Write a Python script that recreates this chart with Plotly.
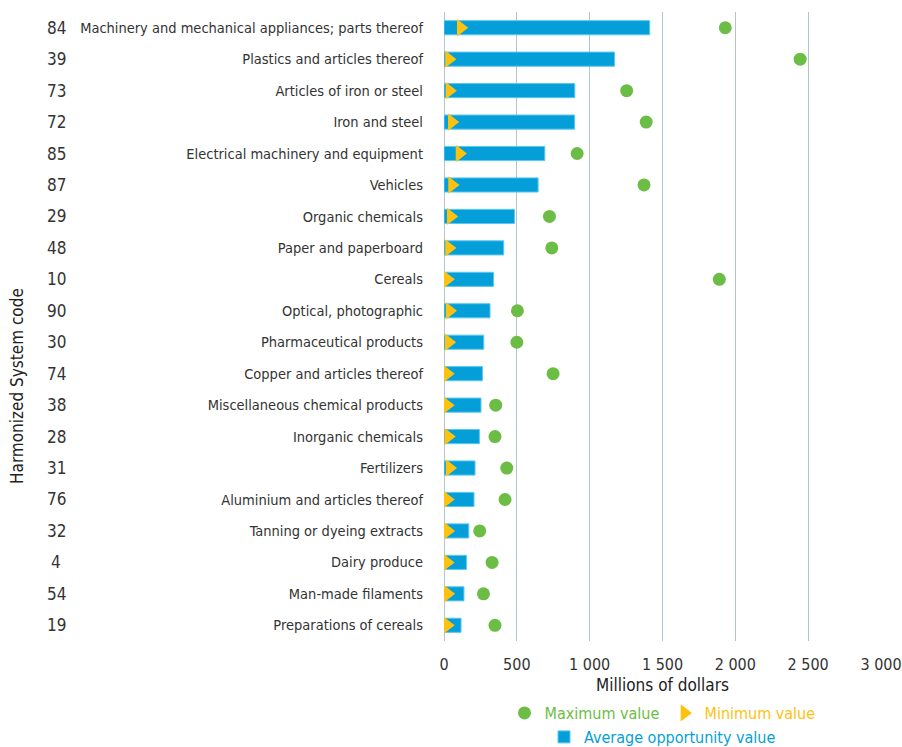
import plotly.graph_objects as go

codes = ["84", "39", "73", "72", "85", "87", "29", "48", "10", "90",
         "30", "74", "38", "28", "31", "76", "32", "4", "54", "19"]
names = ["Machinery and mechanical appliances; parts thereof",
         "Plastics and articles thereof", "Articles of iron or steel",
         "Iron and steel", "Electrical machinery and equipment", "Vehicles",
         "Organic chemicals", "Paper and paperboard", "Cereals",
         "Optical, photographic", "Pharmaceutical products",
         "Copper and articles thereof", "Miscellaneous chemical products",
         "Inorganic chemicals", "Fertilizers", "Aluminium and articles thereof",
         "Tanning or dyeing extracts", "Dairy produce", "Man-made filaments",
         "Preparations of cereals"]
average_value = [1412, 1171, 898, 897, 692, 646, 484, 410, 340, 316,
                 273, 264, 254, 243, 213, 206, 170, 154, 137, 117]
maximum_value = [1931, 2445, 1254, 1388, 914, 1373, 724, 740, 1890, 504,
                 500, 749, 355, 350, 431, 419, 245, 330, 271, 350]
minimum_value = [115, 34, 37, 53, 106, 55, 46, 34, 23, 38,
                 32, 22, 22, 29, 38, 22, 25, 22, 25, 22]
x_ticks = [0, 500, 1000, 1500, 2000, 2500, 3000]
x_tick_labels = ["0", "500", "1 000", "1 500", "2 000", "2 500", "3 000"]

FONT = "Liberation Sans Narrow, DejaVu Sans Condensed, Roboto, sans-serif"
BLUE = "#049fd9"
GREEN = "#6cbd45"
YELLOW = "#fcc20f"

W, H = 902, 747
ML, MR, MT, MB = 444, 21, 12, 106
PW = W - ML - MR
PH = H - MT - MB

fig = go.Figure()
fig.add_trace(go.Bar(
    y=names, x=average_value, orientation="h", width=0.45,
    marker=dict(color=BLUE, line=dict(color="#5cc8f0", width=1)),
    name=f"<span style='color:{BLUE}'>Average opportunity value</span>",
    legend="legend2", showlegend=True,
))
fig.add_trace(go.Scatter(
    y=names, x=maximum_value, mode="markers",
    marker=dict(symbol="circle", size=13, color=GREEN),
    name=f"<span style='color:{GREEN}'>Maximum value</span>",
    legend="legend",
))
fig.add_trace(go.Scatter(
    y=names, x=minimum_value, mode="markers",
    marker=dict(symbol="triangle-right", size=15, color=YELLOW),
    name=f"<span style='color:{YELLOW}'>Minimum value</span>",
    legend="legend",
))

annotations = []
for c, n in zip(codes, names):
    annotations.append(dict(x=(56 - ML) / PW, xref="paper", y=n, yref="y",
                            text=c, showarrow=False, xanchor="center",
                            font=dict(family=FONT, size=17, color="#333333")))
annotations.append(dict(text="Harmonized System code",
                        x=(17 - ML) / PW, xref="paper", xanchor="center",
                        y=1 - (386 - MT) / PH, yref="paper", yanchor="middle",
                        showarrow=False, textangle=-90,
                        font=dict(family=FONT, size=17, color="#222222")))

fig.update_layout(
    width=W, height=H,
    margin=dict(l=ML, r=MR, t=MT, b=MB, autoexpand=False),
    plot_bgcolor="white", paper_bgcolor="white",
    font=dict(family=FONT, size=15, color="#333333"),
    annotations=annotations,
    xaxis=dict(range=[0, 3000], tickvals=x_ticks, ticktext=x_tick_labels,
               showgrid=True, gridcolor="#b4c3cc", gridwidth=1.2,
               zeroline=False, showline=False, automargin=False,
               ticks="", ticklabelstandoff=12,
               tickfont=dict(size=16, color="#333333"),
               title=dict(text="Millions of dollars", standoff=6,
                          font=dict(size=17, color="#222222"))),
    yaxis=dict(categoryorder="array", categoryarray=names[::-1],
               showgrid=False, zeroline=False, showline=False,
               automargin=False, ticks="", ticklabelstandoff=20,
               tickfont=dict(size=14.5, color="#333333"),
               range=[-0.5, 19.5]),
    legend=dict(orientation="h", x=0.5, xanchor="center",
                yref="container", y=34 / H, yanchor="middle",
                font=dict(size=16), itemwidth=30,
                bgcolor="rgba(0,0,0,0)"),
    legend2=dict(orientation="h", x=0.5, xanchor="center",
                 yref="container", y=10 / H, yanchor="middle",
                 font=dict(size=16), itemwidth=30,
                 bgcolor="rgba(0,0,0,0)"),
)

# zero axis line
fig.add_shape(type="line", xref="x", yref="paper", x0=0, x1=0, y0=0, y1=1,
              line=dict(color="#9fb2bd", width=1.5), layer="below")

fig.write_html("out.html",
               config={"displayModeBar": False},
               post_script="document.body.style.margin='0';"
                           "document.body.style.padding='0';")
